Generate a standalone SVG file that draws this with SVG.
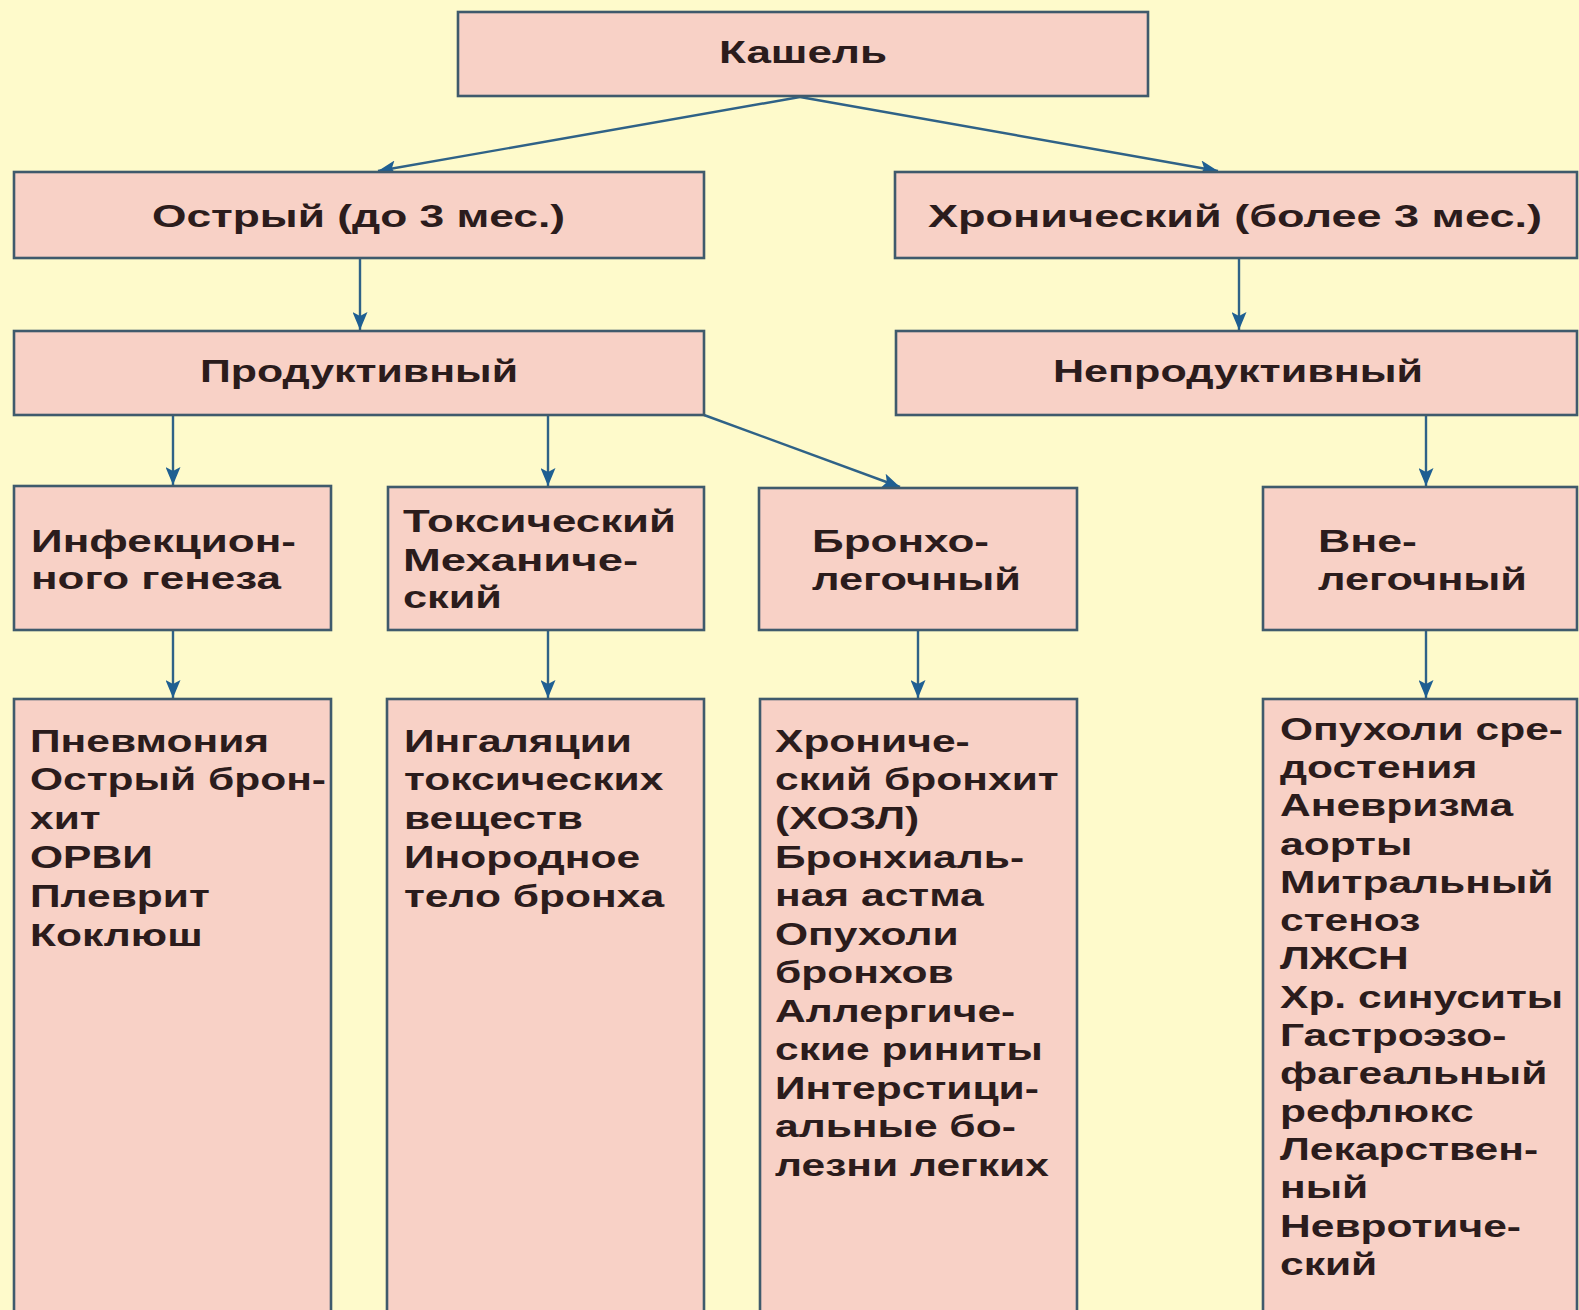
<svg xmlns="http://www.w3.org/2000/svg" width="1579" height="1310" viewBox="0 0 1579 1310">
<style>
.box{fill:#f8d1c6;stroke:#3f5a6c;stroke-width:2.6}
.t{font-family:"Liberation Sans",Arial,sans-serif;font-weight:bold;font-size:31px;fill:#2b1c1c}
.l{font-size:32px}
.c{text-anchor:middle}
.con line{stroke:#2f6287;stroke-width:2.4;fill:none;marker-end:url(#ah)}
</style>
<defs>
<marker id="ah" viewBox="0 0 18 15" refX="18" refY="7.5" markerWidth="18" markerHeight="15" markerUnits="userSpaceOnUse" orient="auto">
<path d="M0,0 L18,7.5 L0,15 L4,7.5 Z" fill="#1f5f92"/>
</marker>
</defs>
<rect width="1579" height="1310" fill="#fefacb"/>
<g id="connectors" class="con">
<line x1="800" y1="97" x2="378" y2="171"/>
<line x1="800" y1="97" x2="1218" y2="171"/>
<line x1="360" y1="258" x2="360" y2="330"/>
<line x1="1239" y1="258" x2="1239" y2="330"/>
<line x1="173" y1="415" x2="173" y2="485"/>
<line x1="548" y1="415" x2="548" y2="486"/>
<line x1="704" y1="415" x2="900" y2="487"/>
<line x1="1426" y1="415" x2="1426" y2="486"/>
<line x1="173" y1="630" x2="173" y2="698"/>
<line x1="548" y1="630" x2="548" y2="698"/>
<line x1="918" y1="630" x2="918" y2="698"/>
<line x1="1426" y1="630" x2="1426" y2="698"/>
</g>
<g id="n-kashel"><rect class="box" x="458" y="12" width="690" height="84"/><text class="t c" x="803" y="63" textLength="168" lengthAdjust="spacingAndGlyphs">Кашель</text></g>
<g id="n-ostry"><rect class="box" x="14" y="172" width="690" height="86"/><text class="t" x="152" y="227" textLength="413" lengthAdjust="spacingAndGlyphs">Острый (до 3 мес.)</text></g>
<g id="n-chron"><rect class="box" x="895" y="172" width="682" height="86"/><text class="t" x="928" y="227" textLength="614" lengthAdjust="spacingAndGlyphs">Хронический (более 3 мес.)</text></g>
<g id="n-prod"><rect class="box" x="14" y="331" width="690" height="84"/><text class="t" x="200" y="382" textLength="318" lengthAdjust="spacingAndGlyphs">Продуктивный</text></g>
<g id="n-neprod"><rect class="box" x="896" y="331" width="681" height="84"/><text class="t" x="1053" y="382" textLength="370" lengthAdjust="spacingAndGlyphs">Непродуктивный</text></g>
<g id="n-infek"><rect class="box" x="14" y="486" width="317" height="144"/>
<text class="t" x="31" y="552" textLength="265" lengthAdjust="spacingAndGlyphs">Инфекцион-</text>
<text class="t" x="31" y="589" textLength="250" lengthAdjust="spacingAndGlyphs">ного генеза</text></g>
<g id="n-toks"><rect class="box" x="388" y="487" width="316" height="143"/>
<text class="t" x="403" y="532" textLength="273" lengthAdjust="spacingAndGlyphs">Токсический</text>
<text class="t" x="403" y="571" textLength="235" lengthAdjust="spacingAndGlyphs">Механиче-</text>
<text class="t" x="403" y="608" textLength="99" lengthAdjust="spacingAndGlyphs">ский</text></g>
<g id="n-bronho"><rect class="box" x="759" y="488" width="318" height="142"/>
<text class="t" x="812" y="552" textLength="177" lengthAdjust="spacingAndGlyphs">Бронхо-</text>
<text class="t" x="812" y="590" textLength="209" lengthAdjust="spacingAndGlyphs">легочный</text></g>
<g id="n-vne"><rect class="box" x="1263" y="487" width="314" height="143"/>
<text class="t" x="1318" y="552" textLength="99" lengthAdjust="spacingAndGlyphs">Вне-</text>
<text class="t" x="1318" y="590" textLength="209" lengthAdjust="spacingAndGlyphs">легочный</text></g>
<g id="n-list1"><rect class="box" x="14" y="699" width="317" height="625"/>
<g transform="translate(30,0) scale(1.33,1)">
<text class="t l" x="0" y="752">Пневмония</text>
<text class="t l" x="0" y="790">Острый брон-</text>
<text class="t l" x="0" y="829">хит</text>
<text class="t l" x="0" y="868">ОРВИ</text>
<text class="t l" x="0" y="907">Плеврит</text>
<text class="t l" x="0" y="946">Коклюш</text>
</g></g>
<g id="n-list2"><rect class="box" x="387" y="699" width="317" height="625"/>
<g transform="translate(404,0) scale(1.33,1)">
<text class="t l" x="0" y="752">Ингаляции</text>
<text class="t l" x="0" y="790">токсических</text>
<text class="t l" x="0" y="829">веществ</text>
<text class="t l" x="0" y="868">Инородное</text>
<text class="t l" x="0" y="907">тело бронха</text>
</g></g>
<g id="n-list3"><rect class="box" x="760" y="699" width="317" height="625"/>
<g transform="translate(775,0) scale(1.33,1)">
<text class="t l" x="0" y="752">Хрониче-</text>
<text class="t l" x="0" y="790">ский бронхит</text>
<text class="t l" x="0" y="829">(ХОЗЛ)</text>
<text class="t l" x="0" y="868">Бронхиаль-</text>
<text class="t l" x="0" y="906">ная астма</text>
<text class="t l" x="0" y="945">Опухоли</text>
<text class="t l" x="0" y="983">бронхов</text>
<text class="t l" x="0" y="1022">Аллергиче-</text>
<text class="t l" x="0" y="1060">ские риниты</text>
<text class="t l" x="0" y="1099">Интерстици-</text>
<text class="t l" x="0" y="1137">альные бо-</text>
<text class="t l" x="0" y="1176">лезни легких</text>
</g></g>
<g id="n-list4"><rect class="box" x="1263" y="699" width="314" height="625"/>
<g transform="translate(1280,0) scale(1.33,1)">
<text class="t l" x="0" y="740">Опухоли сре-</text>
<text class="t l" x="0" y="778">достения</text>
<text class="t l" x="0" y="816">Аневризма</text>
<text class="t l" x="0" y="855">аорты</text>
<text class="t l" x="0" y="893">Митральный</text>
<text class="t l" x="0" y="931">стеноз</text>
<text class="t l" x="0" y="969">ЛЖСН</text>
<text class="t l" x="0" y="1008">Хр. синуситы</text>
<text class="t l" x="0" y="1046">Гастроэзо-</text>
<text class="t l" x="0" y="1084">фагеальный</text>
<text class="t l" x="0" y="1122">рефлюкс</text>
<text class="t l" x="0" y="1160">Лекарствен-</text>
<text class="t l" x="0" y="1198">ный</text>
<text class="t l" x="0" y="1237">Невротиче-</text>
<text class="t l" x="0" y="1275">ский</text>
</g></g>
</svg>
